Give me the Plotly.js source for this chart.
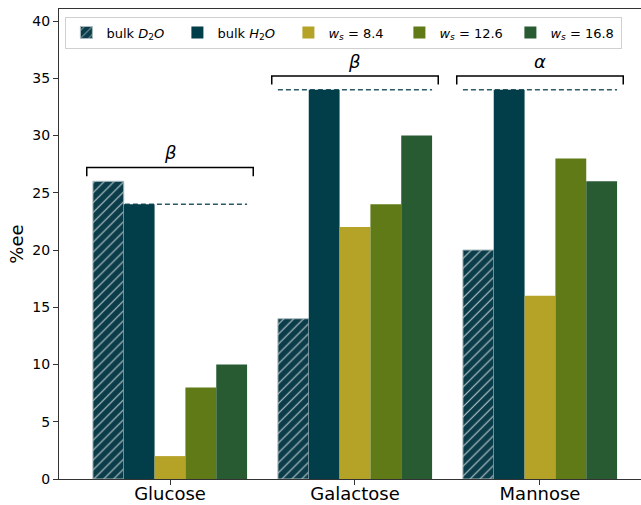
<!DOCTYPE html>
<html>
<head>
<meta charset="utf-8">
<script src="https://cdn.plot.ly/plotly-3.0.1.min.js"></script>
<style>html,body{margin:0;padding:0;background:#fff;}#chart{width:641px;height:505px;}</style>
</head>
<body>
<div id="chart"></div>
<script>
const categories = ['Glucose', 'Galactose', 'Mannose'];
const seriesNames = ['bulk <i>D</i><sub>2</sub><i>O</i>', 'bulk <i>H</i><sub>2</sub><i>O</i>',
  '<i>w</i><sub><i>s</i></sub> = 8.4', '<i>w</i><sub><i>s</i></sub> = 12.6', '<i>w</i><sub><i>s</i></sub> = 16.8'];
const bulkD2O = [26, 14, 20];
const bulkH2O = [24, 34, 34];
const ws84 = [2, 22, 16];
const ws126 = [8, 24, 28];
const ws168 = [10, 30, 26];
const anomers = ['β', 'β', 'α'];
const yTicks = [0, 5, 10, 15, 20, 25, 30, 35, 40];

const colors = ['#0b3c49', '#023d4a', '#b4a327', '#5f7a17', '#295b33'];
const allSeries = [bulkD2O, bulkH2O, ws84, ws126, ws168];
const FONT = 'DejaVu Sans, sans-serif';

const traces = allSeries.map((vals, k) => {
  const t = {
    type: 'bar', x: categories, y: vals, name: seriesNames[k],
    marker: {color: colors[k], line: {width: 0}},
    hoverinfo: 'none'
  };
  if (k === 0) {
    t.marker.pattern = {shape: '/', fgcolor: '#c2d0d3', bgcolor: colors[0], fillmode: 'replace', size: 7, solidity: 0.15};
    t.marker.line = {color: '#a9babe', width: 1};
  }
  return t;
});

const half = 5 / 6 / 2;      // half-width of a bar group
const bh = 0.45;             // half-width of a bracket
const shapes = [];
const annotations = [];
categories.forEach((c, i) => {
  const ref = bulkH2O[i];
  shapes.push({type: 'line', xref: 'x', yref: 'y', layer: 'below',
    x0: i - half, x1: i + half, y0: ref, y1: ref,
    line: {color: '#2c5a66', width: 1.5, dash: '5px,3px'}});
  const top = Math.max(...allSeries.map(s => s[i])) + 1.2;
  shapes.push({type: 'path', xref: 'x', yref: 'y', layer: 'above',
    path: `M${i - bh},${top - 0.75} L${i - bh},${top} L${i + bh},${top} L${i + bh},${top - 0.75}`,
    line: {color: '#000', width: 1.5}});
  annotations.push({xref: 'x', yref: 'y', x: i, y: top + 1.3, text: '<i>' + anomers[i] + '</i>',
    showarrow: false, yanchor: 'middle', xanchor: 'center',
    font: {family: FONT, size: 18, color: '#000'}});
});

const layout = {
  width: 641, height: 505,
  margin: {l: 59, r: 0, t: 9, b: 26},
  paper_bgcolor: '#fff', plot_bgcolor: '#fff',
  font: {family: FONT, color: '#000'},
  barmode: 'group', bargap: 1/6, bargroupgap: 0,
  showlegend: true,
  legend: {orientation: 'h', x: 0.011, y: 0.984, xanchor: 'left', yanchor: 'top',
    bordercolor: '#d0d0d0', borderwidth: 1, bgcolor: 'rgba(255,255,255,0.8)',
    font: {family: FONT, size: 13, color: '#000'}, traceorder: 'normal',
    entrywidth: 66, entrywidthmode: 'pixels'},
  xaxis: {
    type: 'category', range: [-0.6, 2.546], showgrid: false, zeroline: false,
    showline: true, mirror: true, linecolor: '#333', linewidth: 1,
    ticks: 'outside', ticklen: 5, tickcolor: '#333', ticklabelstandoff: -7,
    tickfont: {family: FONT, size: 18, color: '#000'}, fixedrange: true
  },
  yaxis: {
    range: [0, 41.05], showgrid: false, zeroline: false,
    showline: true, linecolor: '#333', linewidth: 1,
    ticks: 'outside', ticklen: 5, tickcolor: '#333',
    tickvals: yTicks, ticktext: yTicks.map(String),
    tickfont: {family: FONT, size: 14, color: '#000'},
    title: {text: '%ee', font: {family: FONT, size: 18, color: '#000'}, standoff: 4},
    fixedrange: true
  },
  shapes: shapes,
  annotations: annotations
};

Plotly.newPlot('chart', traces, layout, {displayModeBar: false, staticPlot: true});
</script>
</body>
</html>
